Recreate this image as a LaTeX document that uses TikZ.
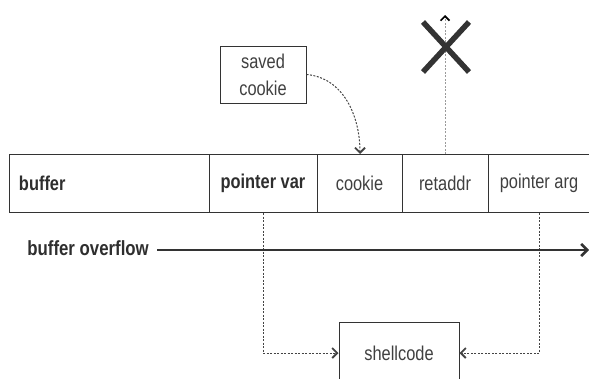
\documentclass[tikz,border=0pt]{standalone}
\usepackage{fontspec}
\setmainfont{Liberation Sans}[FakeStretch=0.82]
\usetikzlibrary{arrows.meta}
\definecolor{boxc}{HTML}{333333}
\definecolor{txt}{HTML}{404040}
\definecolor{txtb}{HTML}{2E2E2E}
\definecolor{dashc}{HTML}{444444}
\definecolor{lightc}{HTML}{9A9A9A}
\begin{document}
\begin{tikzpicture}[x=1pt,y=-1pt,
  box/.style={draw=boxc, line width=1pt, inner sep=0pt, minimum height=58pt,
    font=\fontsize{20}{22}\selectfont, text=txt},
  bbox/.style={box, font=\fontsize{20}{22}\selectfont\bfseries, text=txtb},
  dline/.style={draw=dashc, line width=1pt, dash pattern=on 2pt off 1.5pt},
  tipA/.style={-{Straight Barb[length=5pt,width=10pt,line width=1.8pt]}}
]
\useasboundingbox (0,0) rectangle (589,378);

% memory layout
\node[bbox, text width=180pt, inner xsep=10pt, align=left] (buf) at (109,183.5) {buffer};
\node[bbox, minimum width=108pt] (pv) at (263,183.5) {pointer var};
\node[box, minimum width=85pt] (ck) at (359.5,183.5) {cookie};
\node[box, minimum width=86pt] (ra) at (445,183.5) {retaddr};
\node[box, minimum width=102pt] (pa) at (539,183.5) {pointer arg};

% saved cookie
\node[box, minimum width=86pt, minimum height=57pt, align=center,
      font=\fontsize{20}{27}\selectfont] (sv) at (263,74.5) {saved\\cookie};
\draw[dline, tipA] (sv.east) to[out=-5, in=90] (ck.north -| 360,0);

% retaddr overwritten
\coordinate (top) at (445,15);
\draw[draw=lightc, line width=0.9pt, dash pattern=on 2pt off 1.5pt,
      -{Straight Barb[length=4.5pt,width=9pt,line width=1.7pt,color=black]}] (ra.north) -- (top);
\draw[draw=boxc, line width=5.5pt] (423,22) -- (469,72);
\draw[draw=boxc, line width=5.5pt] (469,22) -- (423,72);

% shellcode
\node[box, minimum width=120pt, minimum height=62pt] (sc) at (399,353) {shellcode};
\draw[dline, tipA] (pv.south) |- (sc.west);
\draw[dline, tipA] (pa.south) |- (sc.east);

% buffer overflow
\node[anchor=east, inner sep=0pt, font=\fontsize{20.5}{22}\selectfont\bfseries, text=txtb]
  (bo) at (149,248) {buffer overflow};
\coordinate (bend) at (589,250);
\draw[draw=boxc, line width=2.7pt,
      -{Straight Barb[length=6pt,width=12pt,line width=2.6pt]}] (157,250) -- (bend);
\end{tikzpicture}
\end{document}
